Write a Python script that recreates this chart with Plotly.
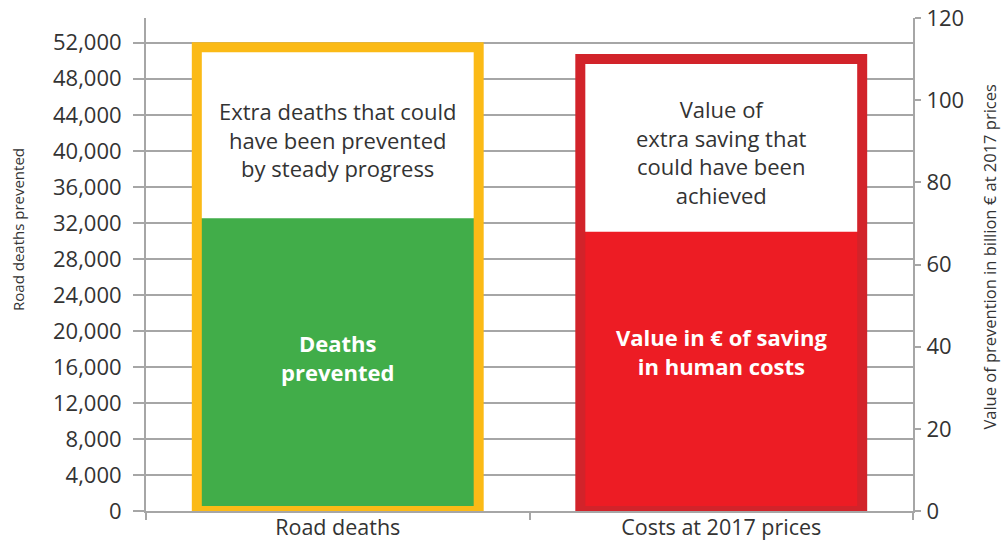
import plotly.graph_objects as go

# ---- data ----
categories = ["Road deaths", "Costs at 2017 prices"]
deaths_prevented = [32500]          # road deaths prevented
deaths_potential = [51500]          # with steady progress
value_saved = [68]                  # billion € (2017 prices)
value_potential = [110]             # billion € with steady progress
left_ticks = list(range(0, 52001, 4000))
right_ticks = list(range(0, 121, 20))

FONT = "Open Sans"
TXT = "#333333"
GRID = "#a6a6a6"
GREEN = "#41ad49"
YELLOW = "#fbba16"
RED = "#ed1c24"
RED_DARK = "#d2232a"
W = 0.735

fig = go.Figure()
# left bar (deaths)
fig.add_bar(x=[categories[0]], y=deaths_potential, width=W, marker=dict(color="white", line=dict(width=0)), yaxis="y")
fig.add_bar(x=[categories[0]], y=deaths_prevented, width=W, marker=dict(color=GREEN, line=dict(width=0)), yaxis="y")
fig.add_bar(x=[categories[0]], y=deaths_potential, width=W, marker=dict(color="rgba(0,0,0,0)", line=dict(color=YELLOW, width=10)), yaxis="y")
# right bar (costs)
fig.add_bar(x=[categories[1]], y=value_potential, width=W, marker=dict(color="white", line=dict(width=0)), yaxis="y2")
fig.add_bar(x=[categories[1]], y=value_saved, width=W, marker=dict(color=RED, line=dict(width=0)), yaxis="y2")
fig.add_bar(x=[categories[1]], y=value_potential, width=W, marker=dict(color="rgba(0,0,0,0)", line=dict(color=RED_DARK, width=10)), yaxis="y2")

ann_font = dict(family=FONT, size=22, color=TXT)
bold_font = dict(family=FONT, size=22, color="white")
annotations = [
    dict(x=categories[0], y=41300, yref="y", xref="x", showarrow=False,
         text="Extra deaths that could<br>have been prevented<br>by steady progress", font=ann_font),
    dict(x=categories[0], y=17100, yref="y", xref="x", showarrow=False,
         text="<b>Deaths<br>prevented</b>", font=bold_font),
    dict(x=categories[1], y=87.4, yref="y2", xref="x", showarrow=False,
         text="Value of<br>extra saving that<br>could have been<br>achieved", font=ann_font),
    dict(x=categories[1], y=38.9, yref="y2", xref="x", showarrow=False,
         text="<b>Value in € of saving<br>in human costs</b>", font=bold_font),
    # axis titles
    dict(x=0, y=0.57, xref="paper", yref="paper", xshift=-128, showarrow=False,
         textangle=-90, text="Road deaths prevented", font=dict(family=FONT, size=15, color=TXT),
         xanchor="center", yanchor="middle"),
    dict(x=1, y=0.516, xref="paper", yref="paper", xshift=77, showarrow=False,
         textangle=-90, text="Value of prevention in billion € at 2017 prices",
         font=dict(family=FONT, size=16.5, color=TXT),
         xanchor="center", yanchor="middle"),
]

fig.update_layout(
    width=1002, height=540,
    margin=dict(l=146, r=89, t=18, b=29),
    barmode="overlay",
    showlegend=False,
    plot_bgcolor="white", paper_bgcolor="white",
    font=dict(family=FONT, color=TXT),
    annotations=annotations,
    xaxis=dict(type="category", range=[-0.5, 1.5], tickson="boundaries", automargin=False,
               ticks="outside", ticklen=7, tickwidth=2, tickcolor=GRID,
               showline=True, linecolor=GRID, linewidth=2, ticklabelstandoff=-4,
               ticklabeloverflow="allow",
               tickfont=dict(family=FONT, size=21.5, color=TXT), showgrid=False),
    yaxis=dict(range=[0, 54750], tickvals=left_ticks, tickformat=",", automargin=False,
               showgrid=True, gridcolor=GRID, gridwidth=2, zeroline=False,
               ticks="outside", ticklen=11, tickwidth=2, tickcolor=GRID,
               showline=True, linecolor=GRID, linewidth=2, ticklabelstandoff=7,
               ticklabeloverflow="allow",
               tickfont=dict(family=FONT, size=22, color=TXT)),
    yaxis2=dict(range=[0, 120], tickvals=right_ticks, overlaying="y", side="right", automargin=False,
                showgrid=False, zeroline=False,
                ticks="outside", ticklen=6, tickwidth=2, tickcolor=GRID,
                showline=True, linecolor=GRID, linewidth=2, ticklabelstandoff=1,
                ticklabeloverflow="allow",
                tickfont=dict(family=FONT, size=22, color=TXT)),
)

# remove the default 8px page margin so the 1002x540 figure fills the window exactly
fig.write_html("out.html",
               config={"displayModeBar": False},
               post_script="document.body.style.margin='0';document.body.style.overflow='hidden';")
